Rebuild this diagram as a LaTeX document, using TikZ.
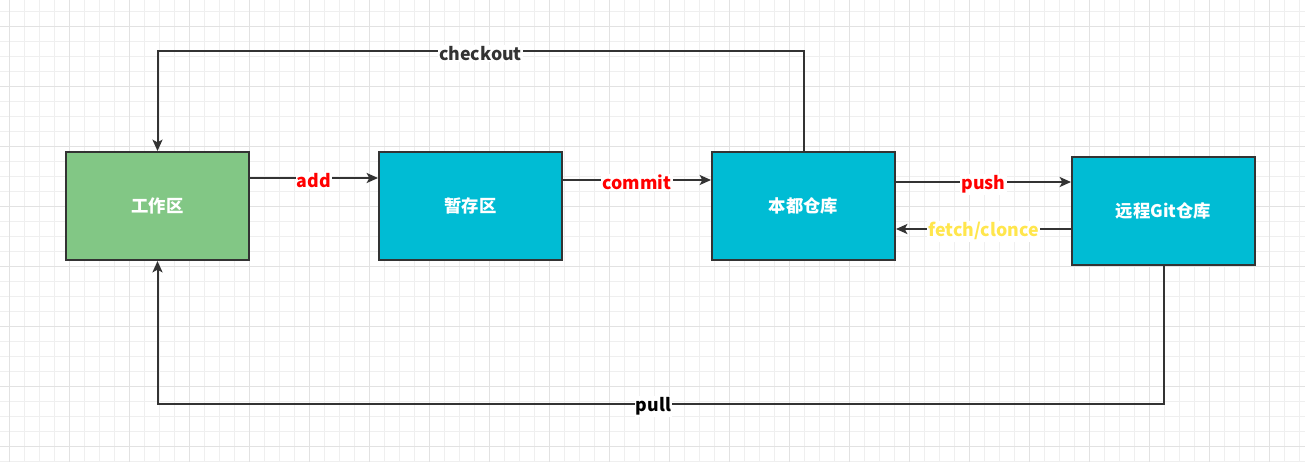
\documentclass[tikz,border=0pt]{standalone}
\usepackage{fontspec}
\setmainfont{Noto Sans CJK SC}
\usetikzlibrary{arrows.meta,calc}

\definecolor{gridminor}{HTML}{EFEFEF}
\definecolor{gridmajor}{HTML}{E2E2E2}
\definecolor{linegray}{HTML}{333333}
\definecolor{workgreen}{HTML}{82C785}
\definecolor{boxcyan}{HTML}{00BCD4}
\definecolor{fetchyellow}{HTML}{FFE64D}

\tikzset{
	area/.style={draw=linegray, line width=1.5pt, fill=boxcyan, text=white,
		font=\fontsize{13pt}{15pt}\selectfont\bfseries,
		minimum width=137.25pt, minimum height=81pt, inner sep=0pt},
	flow/.style={draw=linegray, line width=1.5pt, -{Stealth[length=8.5pt,width=7.5pt,inset=2pt]}},
	tag/.style={fill=white, inner sep=1pt, yshift=-1.8pt, font=\fontsize{13.3pt}{15pt}\selectfont\bfseries}
}

\begin{document}
\begin{tikzpicture}[x=0.75pt, y=-0.75pt]
	\useasboundingbox (0,0) rectangle (1305,462);
	\fill[white] (0,0) rectangle (1305,462);

	% Background grid
	\foreach \gx in {9,24,...,1305}
		\draw[gridminor, line width=0.75pt] (\gx,0) -- (\gx,462);
	\foreach \gy in {11,26,...,462}
		\draw[gridminor, line width=0.75pt] (0,\gy) -- (1305,\gy);
	\foreach \gx in {9,69,...,1305}
		\draw[gridmajor, line width=0.75pt] (\gx,0) -- (\gx,462);
	\foreach \gy in {26,86,...,462}
		\draw[gridmajor, line width=0.75pt] (0,\gy) -- (1305,\gy);

	% Areas
	\node[area, fill=workgreen] (gzq) at (157.5,206) {\raisebox{-1.5pt}{工作区}};
	\node[area] (zcq) at (470.5,206) {\raisebox{-1.5pt}{暂存区}};
	\node[area] (bdck) at (803.5,206) {\raisebox{-1.5pt}{本都仓库}};
	\node[area] (ycck) at (1163.5,211) {\raisebox{-1.5pt}{远程Git仓库}};

	% add / commit
	\draw[flow] ($(gzq.north east)+(0,27)$) -- node[tag, text=red] {add} ($(zcq.north west)+(0,27)$);
	\draw[flow] ($(zcq.north east)+(0,29)$) -- node[tag, text=red] {commit} ($(bdck.north west)+(0,29)$);

	% push / fetch
	\draw[flow] ($(bdck.north east)+(0,31)$) -- node[tag, text=red] {push} ($(ycck.north west)+(0,26)$);
	\draw[flow] ($(ycck.north west)+(0,73)$) -- node[tag, text=fetchyellow] {fetch/clonce} ($(bdck.north east)+(0,78)$);

	% checkout
	\coordinate (ck1) at ($(bdck.north)+(0,-100)$);
	\coordinate (ck2) at (gzq.north |- ck1);
	\draw[flow] (bdck.north) -- (ck1) -- node[tag, text=linegray] {checkout} (ck2) -- (gzq.north);

	% pull
	\coordinate (pl1) at ($(ycck.south)+(0,138)$);
	\coordinate (pl2) at (gzq.south |- pl1);
	\draw[flow] (ycck.south) -- (pl1) -- node[tag, text=black, pos=0.507] {pull} (pl2) -- (gzq.south);

\end{tikzpicture}
\end{document}
